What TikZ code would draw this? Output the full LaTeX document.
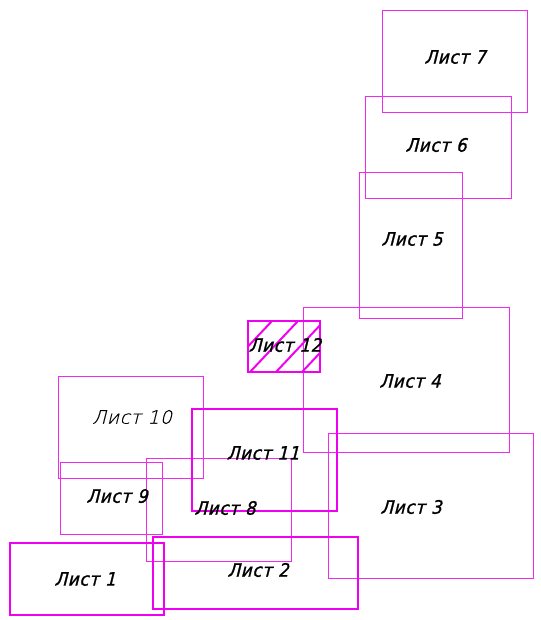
\documentclass[tikz,border=0pt]{standalone}
\usepackage{fontspec}
\newfontfamily\gost[FakeSlant=0.25,FakeBold=1.2,LetterSpace=4]{DejaVu Sans Condensed}
\newfontfamily\gostlight[FakeSlant=0.25,FakeBold=0.4,LetterSpace=4]{DejaVu Sans ExtraLight}
\definecolor{mag}{RGB}{240,40,240}
\definecolor{magd}{RGB}{240,0,240}
\tikzset{
  x=1pt,y=-1pt,
  thinbox/.style={draw=mag,line width=1pt},
  thickbox/.style={draw=magd,line width=2.2pt},
  hatchline/.style={draw=magd,line width=2pt},
  lbl/.style={font=\gost\fontsize{18.5}{18.5}\selectfont,text=black},
  lbllight/.style={font=\gostlight\fontsize{18.5}{18.5}\selectfont,text=black},
}
\begin{document}
\begin{tikzpicture}
\useasboundingbox (0,0) rectangle (540,620);
% thin sheets
\draw[thinbox] (382,11) rectangle (527,113);
\draw[thinbox] (365,97) rectangle (511,199);
\draw[thinbox] (359,173) rectangle (462,318);
\draw[thinbox] (303,307) rectangle (509,452);
\draw[thinbox] (328,433) rectangle (533,578);
\draw[thinbox] (58,376) rectangle (203,478);
\draw[thinbox] (60,462) rectangle (162,534);
\draw[thinbox] (146,458) rectangle (291,561);
% hatched sheet 12
\begin{scope}
\clip (248,321) rectangle (320,372);
\foreach \k in {-1,0,1,2,3} {
  \draw[hatchline] (250+\k*26,372) -- ++(48,-51);
}
\end{scope}
\draw[thickbox] (248,321) rectangle (320,372);
\draw[thickbox] (192,409) rectangle (337,511);
\draw[thickbox] (153,537) rectangle (358,609);
\draw[thickbox] (10,543) rectangle (164,615);
% labels
\node[lbl] (l7) at (455,57) {Лист 7};
\node[lbl] (l6) at (436,145) {Лист 6};
\node[lbl] (l5) at (412,239) {Лист 5};
\node[lbl] (l4) at (410,381) {Лист 4};
\node[lbl] (l3) at (411,507) {Лист 3};
\node[lbl] (l12) at (285,345) {Лист 12};
\node[lbllight] (l10) at (132,417) {Лист 10};
\node[lbl] (l11) at (263,453) {Лист 11};
\node[lbl] (l9) at (117,496) {Лист 9};
\node[lbl] (l8) at (225,508) {Лист 8};
\node[lbl] (l2) at (258,570) {Лист 2};
\node[lbl] (l1) at (85,579) {Лист 1};
\end{tikzpicture}
\end{document}
